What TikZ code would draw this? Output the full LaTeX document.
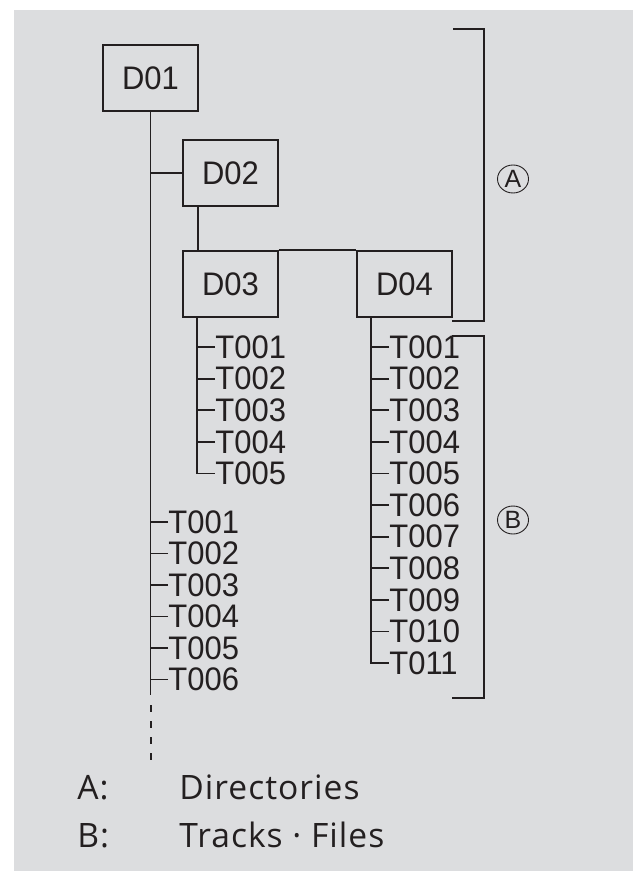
\documentclass[tikz,border=0pt]{standalone}
\usepackage{fontspec}
\setmainfont{Liberation Sans}
\newfontfamily\labelfont[FakeStretch=0.95]{Liberation Sans}
\newfontfamily\legendfont[LetterSpace=3]{Open Sans}
\usepackage{tikz}
\usetikzlibrary{shapes.geometric}
\definecolor{bggray}{HTML}{DCDDDF}
\definecolor{ink}{HTML}{231F20}

\begin{document}
\begin{tikzpicture}[x=0.5pt, y=-0.5pt, color=ink,
    dirbox/.style={draw=ink, line width=0.65pt, minimum width=47.5pt, minimum height=33pt, inner sep=0pt, font=\labelfont\fontsize{16.3}{18}\selectfont},
    track/.style={anchor=west, inner sep=0pt, font=\labelfont\fontsize{16.3}{18}\selectfont},
    trunk/.style={draw=ink, line width=0.9pt},
    bracket/.style={draw=ink, line width=1.3pt},
    marker/.style={ellipse, draw=ink, line width=0.45pt, minimum width=15.5pt, minimum height=14pt, inner sep=0pt, font=\fontsize{12.5}{14}\selectfont},
    legend/.style={anchor=base west, inner sep=0pt, font=\legendfont\fontsize{16.8}{20}\selectfont}]
    \useasboundingbox (0,0) rectangle (633,871);
    \fill[bggray] (14,10) rectangle (633,871);

    % Directories
    \node[dirbox] (d01) at (150.5,78) {D01};
    \node[dirbox] (d02) at (230.5,173) {D02};
    \node[dirbox] (d03) at (230.5,284) {D03};
    \node[dirbox] (d04) at (404.5,284) {D04};

    % Links between directories
    \coordinate (trunkend) at (150.5,695);
    \coordinate (dotsend) at (150.5,760);
    \draw[trunk] (d01.south) -- (trunkend);
    \draw[trunk, line width=1pt, dash pattern=on 3.5pt off 4.5pt] ([yshift=-5pt]trunkend) -- (dotsend);
    \draw[trunk] (d02.west) -- (d02.west -| d01.south);
    \draw[trunk] ([xshift=8pt]d02.south west) -- ([xshift=8pt]d03.north west);
    \draw[trunk] (d03.north east) -- (d04.north west);

    % Tracks of D03
    \coordinate (s03) at ([xshift=7.5pt]d03.south west);
    \foreach \i in {1,...,5}
        \node[track] (a\i) at (215, 315.4+31.6*\i) {T00\i};
    \draw[trunk] (s03) |- (a5.west);
    \foreach \i in {1,...,4}
        \draw[trunk] (a\i.west) -- (a\i.west -| s03);

    % Tracks of D04
    \coordinate (s04) at ([xshift=7.5pt]d04.south west);
    \foreach \i in {1,...,11}
        \node[track] (b\i) at (389, 315.4+31.6*\i) {T0\ifnum\i<10 0\fi\i};
    \draw[trunk] (s04) |- (b11.west);
    \foreach \i in {1,...,10}
        \draw[trunk] (b\i.west) -- (b\i.west -| s04);

    % Tracks of D01
    \foreach \i in {1,...,6} {
        \node[track] (c\i) at (168, 490.5+31.5*\i) {T00\i};
        \draw[trunk] (c\i.west) -- (c\i.west -| trunkend);
    }

    % Brackets
    \draw[bracket] (453,29) -| (484,321) -- (452,321);
    \draw[bracket] (452,336) -| (484,698) -- (452,698);
    \node[marker] (ma) at (513,179) {A};
    \node[marker] (mb) at (513,520) {B};

    % Legend
    \node[legend] (ka) at (77,799) {A:};
    \node[legend] (la) at (179,799) {Directories};
    \node[legend] (kb) at (77,847) {B:};
    \node[legend] (lb) at (179,847) {Tracks · Files};
\end{tikzpicture}
\end{document}
